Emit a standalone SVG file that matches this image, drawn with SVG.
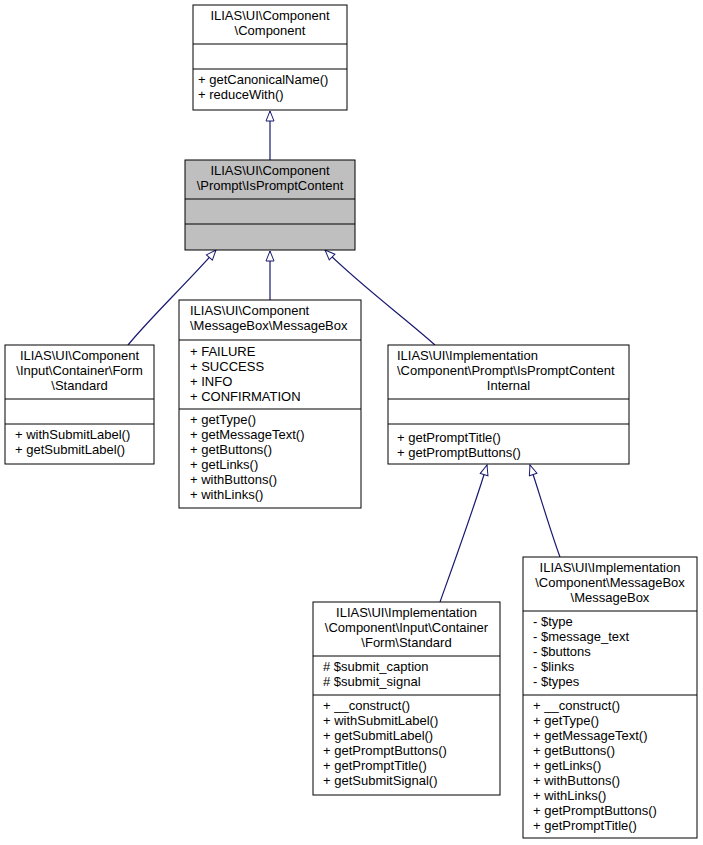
<svg xmlns="http://www.w3.org/2000/svg" width="703" height="845" viewBox="0 0 703 845">
<defs>
<style>
text{font-family:"Liberation Sans",Arial,sans-serif;font-size:13px;fill:#000}
.c{text-anchor:middle}
.b{fill:#fff;stroke:#000;stroke-width:1}
.g{fill:#bfbfbf}
.l{stroke:#000;stroke-width:1}
.e{fill:none;stroke:#191970;stroke-width:1.2;marker-end:url(#t)}
</style>
<marker id="t" viewBox="0 0 12 10" refX="11" refY="5" markerWidth="12" markerHeight="10" markerUnits="userSpaceOnUse" orient="auto">
<path d="M1,1 L11,5 L1,9 Z" fill="#fff" stroke="#191970" stroke-width="1"/>
</marker>
</defs>
<g id="edges">
<path class="e" d="M270,160 L270,111"/>
<path class="e" d="M128,345 C150,318 185,285 216,250"/>
<path class="e" d="M270,300 L270,251"/>
<path class="e" d="M435,345 C405,318 360,285 325,250"/>
<path class="e" d="M440,602 C455,560 475,505 487,465"/>
<path class="e" d="M560,557 C550,530 540,495 530,465"/>
</g>
<g id="n1">
<rect class="b" x="193" y="5" width="154" height="105"/>
<line class="l" x1="193" y1="44" x2="347" y2="44"/><line class="l" x1="193" y1="69" x2="347" y2="69"/>
<text class="c" x="270" y="20">ILIAS\UI\Component</text><text class="c" x="270" y="35">\Component</text>
<text x="198" y="84">+ getCanonicalName()</text><text x="198" y="99">+ reduceWith()</text>
</g>
<g id="n2">
<rect class="b g" x="185" y="160" width="170" height="90"/>
<line class="l" x1="185" y1="199" x2="355" y2="199"/><line class="l" x1="185" y1="224" x2="355" y2="224"/>
<text class="c" x="270" y="175">ILIAS\UI\Component</text><text class="c" x="270" y="190">\Prompt\IsPromptContent</text>
</g>
<g id="n3">
<rect class="b" x="5" y="345" width="149" height="119"/>
<line class="l" x1="5" y1="399" x2="154" y2="399"/><line class="l" x1="5" y1="424" x2="154" y2="424"/>
<text class="c" x="79.5" y="360">ILIAS\UI\Component</text><text class="c" x="79.5" y="375">\Input\Container\Form</text><text class="c" x="79.5" y="390">\Standard</text>
<text x="15" y="439">+ withSubmitLabel()</text><text x="15" y="454">+ getSubmitLabel()</text>
</g>
<g id="n4">
<rect class="b" x="179" y="300" width="182" height="208"/>
<line class="l" x1="179" y1="340" x2="361" y2="340"/><line class="l" x1="179" y1="409" x2="361" y2="409"/>
<text x="190" y="315">ILIAS\UI\Component</text><text x="190" y="330">\MessageBox\MessageBox</text>
<text x="190" y="356">+ FAILURE</text><text x="190" y="371">+ SUCCESS</text><text x="190" y="386">+ INFO</text><text x="190" y="401">+ CONFIRMATION</text>
<text x="190" y="424">+ getType()</text><text x="190" y="439">+ getMessageText()</text><text x="190" y="454">+ getButtons()</text><text x="190" y="469">+ getLinks()</text><text x="190" y="484">+ withButtons()</text><text x="190" y="499">+ withLinks()</text>
</g>
<g id="n5">
<rect class="b" x="388" y="345" width="241" height="119"/>
<line class="l" x1="388" y1="399" x2="629" y2="399"/><line class="l" x1="388" y1="424" x2="629" y2="424"/>
<text x="397" y="360">ILIAS\UI\Implementation</text><text x="397" y="375">\Component\Prompt\IsPromptContent</text><text class="c" x="508.5" y="390">Internal</text>
<text x="397" y="442">+ getPromptTitle()</text><text x="397" y="457">+ getPromptButtons()</text>
</g>
<g id="n6">
<rect class="b" x="313" y="602" width="187" height="193"/>
<line class="l" x1="313" y1="656" x2="500" y2="656"/><line class="l" x1="313" y1="695" x2="500" y2="695"/>
<text class="c" x="406.5" y="617">ILIAS\UI\Implementation</text><text class="c" x="406.5" y="632">\Component\Input\Container</text><text class="c" x="406.5" y="647">\Form\Standard</text>
<text x="323" y="671"># $submit_caption</text><text x="323" y="686"># $submit_signal</text>
<text x="323" y="710">+ __construct()</text><text x="323" y="725">+ withSubmitLabel()</text><text x="323" y="740">+ getSubmitLabel()</text><text x="323" y="755">+ getPromptButtons()</text><text x="323" y="770">+ getPromptTitle()</text><text x="323" y="785">+ getSubmitSignal()</text>
</g>
<g id="n7">
<rect class="b" x="523" y="557" width="174" height="281"/>
<line class="l" x1="523" y1="611" x2="697" y2="611"/><line class="l" x1="523" y1="695" x2="697" y2="695"/>
<text class="c" x="610" y="572">ILIAS\UI\Implementation</text><text class="c" x="610" y="587">\Component\MessageBox</text><text class="c" x="610" y="602">\MessageBox</text>
<text x="533" y="626">- $type</text><text x="533" y="641">- $message_text</text><text x="533" y="656">- $buttons</text><text x="533" y="671">- $links</text><text x="533" y="686">- $types</text>
<text x="533" y="710">+ __construct()</text><text x="533" y="725">+ getType()</text><text x="533" y="740">+ getMessageText()</text><text x="533" y="755">+ getButtons()</text><text x="533" y="770">+ getLinks()</text><text x="533" y="785">+ withButtons()</text><text x="533" y="800">+ withLinks()</text><text x="533" y="815">+ getPromptButtons()</text><text x="533" y="830">+ getPromptTitle()</text>
</g>
</svg>
